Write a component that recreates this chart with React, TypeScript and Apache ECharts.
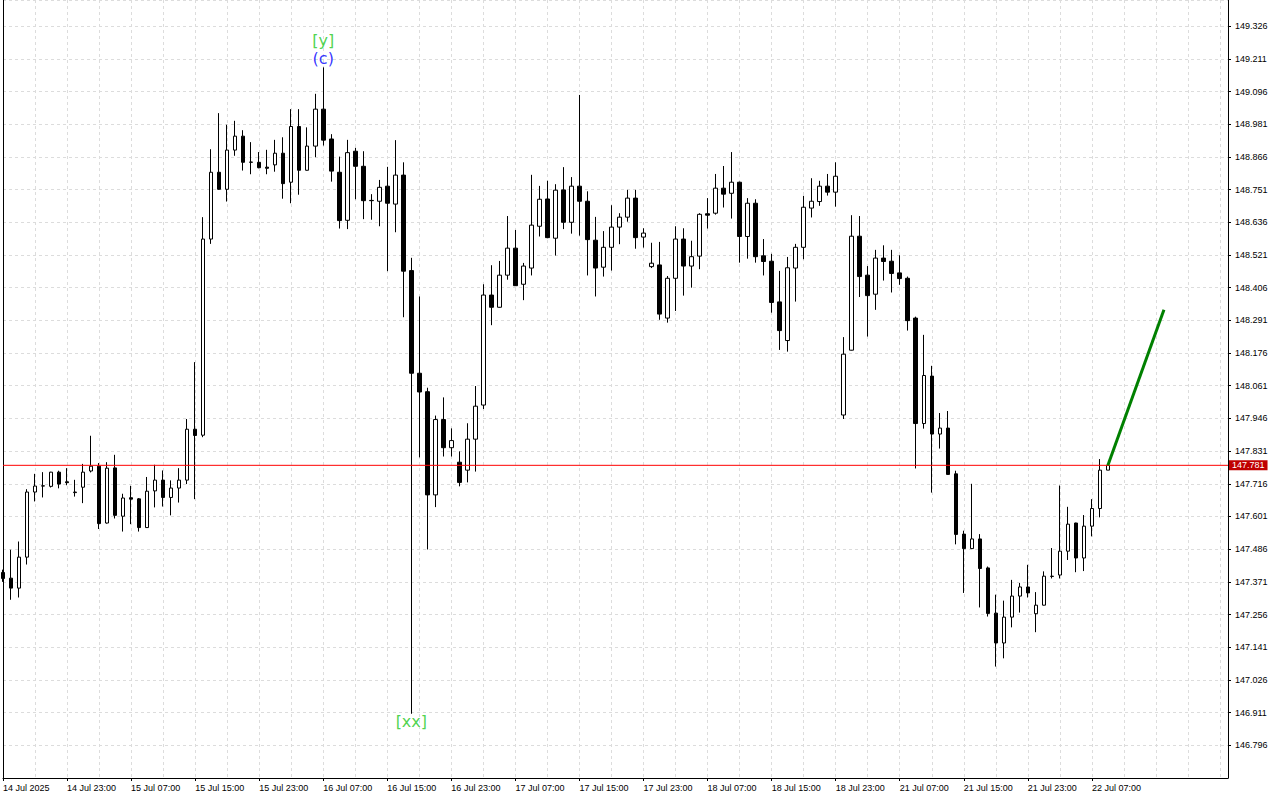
import React, { useEffect, useRef } from 'react';
import * as echarts from 'echarts';

// H1 candles, 14 Jul 2025 15:00 … 22 Jul 2025 09:00 (weekend skipped)
const TIME_LABELS = [
  '14 Jul 2025', '14 Jul 23:00', '15 Jul 07:00', '15 Jul 15:00', '15 Jul 23:00',
  '16 Jul 07:00', '16 Jul 15:00', '16 Jul 23:00', '17 Jul 07:00', '17 Jul 15:00',
  '17 Jul 23:00', '18 Jul 07:00', '18 Jul 15:00', '18 Jul 23:00', '21 Jul 07:00',
  '21 Jul 15:00', '21 Jul 23:00', '22 Jul 07:00',
];
const LABEL_EVERY = 8;
const TOTAL_SLOTS = 154; // bars + empty right shift

const OPEN = [
  147.404, 147.384, 147.349, 147.458, 147.687, 147.708, 147.707, 147.757, 147.723, 147.685,
  147.704, 147.761, 147.778, 147.578, 147.772, 147.602, 147.667, 147.663, 147.562, 147.691,
  147.729, 147.668, 147.701, 147.729, 147.908, 147.887, 148.577, 148.812, 148.752, 148.890,
  148.939, 148.847, 148.847, 148.830, 148.838, 148.879, 148.777, 148.973, 148.819, 148.904,
  149.034, 148.929, 148.812, 148.643, 148.886, 148.833, 148.713, 148.710, 148.763, 148.700,
  148.802, 148.466, 148.105, 148.040, 147.677, 147.942, 147.843, 147.792, 147.764, 147.873,
  147.993, 148.380, 148.337, 148.450, 148.545, 148.418, 148.475, 148.622, 148.718, 148.580,
  148.750, 148.636, 148.763, 148.710, 148.573, 148.478, 148.548, 148.619, 148.654, 148.721,
  148.584, 148.480, 148.486, 148.299, 148.439, 148.577, 148.482, 148.517, 148.666, 148.668,
  148.756, 148.738, 148.777, 148.586, 148.703, 148.518, 148.499, 148.356, 148.220, 148.475,
  148.548, 148.686, 148.709, 148.763, 148.742, 147.958, 148.186, 148.587, 148.450, 148.383,
  148.510, 148.499, 148.458, 148.439, 148.299, 147.928, 148.095, 147.891, 147.912, 147.751,
  147.539, 147.488, 147.522, 147.420, 147.261, 147.156, 147.247, 147.321, 147.353, 147.259,
  147.289, 147.390, 147.395, 147.479, 147.578, 147.455, 147.567, 147.629, 147.764,
];
const CLOSE = [
  147.383, 147.349, 147.458, 147.687, 147.708, 147.709, 147.757, 147.715, 147.720, 147.687,
  147.757, 147.778, 147.576, 147.771, 147.605, 147.666, 147.662, 147.562, 147.690, 147.729,
  147.668, 147.701, 147.729, 147.908, 147.886, 148.577, 148.812, 148.752, 148.890, 148.939,
  148.847, 148.848, 148.828, 148.826, 148.879, 148.772, 148.973, 148.819, 148.904, 149.034,
  148.925, 148.816, 148.642, 148.881, 148.833, 148.712, 148.712, 148.759, 148.703, 148.802,
  148.464, 148.105, 148.039, 147.677, 147.942, 147.843, 147.868, 147.721, 147.873, 147.989,
  148.380, 148.337, 148.450, 148.545, 148.413, 148.482, 148.626, 148.717, 148.582, 148.749,
  148.636, 148.763, 148.710, 148.575, 148.475, 148.548, 148.619, 148.654, 148.721, 148.582,
  148.598, 148.492, 148.313, 148.439, 148.577, 148.482, 148.515, 148.664, 148.661, 148.756,
  148.735, 148.777, 148.586, 148.703, 148.515, 148.498, 148.354, 148.255, 148.476, 148.548,
  148.689, 148.710, 148.763, 148.742, 148.798, 148.172, 148.587, 148.445, 148.378, 148.510,
  148.498, 148.456, 148.438, 148.290, 147.928, 148.097, 147.891, 147.912, 147.749, 147.538,
  147.488, 147.522, 147.418, 147.260, 147.156, 147.247, 147.321, 147.353, 147.332, 147.289,
  147.391, 147.391, 147.479, 147.574, 147.455, 147.567, 147.629, 147.764, 147.781,
];
const LOW = [
  147.371, 147.308, 147.316, 147.432, 147.654, 147.668, 147.703, 147.700, 147.711, 147.671,
  147.648, 147.756, 147.557, 147.576, 147.594, 147.548, 147.574, 147.548, 147.561, 147.633,
  147.636, 147.605, 147.650, 147.715, 147.662, 147.880, 148.560, 148.750, 148.709, 148.870,
  148.818, 148.805, 148.826, 148.805, 148.814, 148.719, 148.703, 148.733, 148.818, 148.865,
  148.906, 148.779, 148.614, 148.612, 148.717, 148.647, 148.645, 148.622, 148.464, 148.601,
  148.302, 146.907, 147.809, 147.485, 147.634, 147.812, 147.812, 147.707, 147.721, 147.759,
  147.979, 148.274, 148.336, 148.434, 148.412, 148.362, 148.449, 148.586, 148.580, 148.519,
  148.612, 148.596, 148.589, 148.449, 148.375, 148.445, 148.466, 148.559, 148.638, 148.543,
  148.547, 148.475, 148.293, 148.283, 148.324, 148.378, 148.406, 148.471, 148.614, 148.663,
  148.688, 148.649, 148.494, 148.508, 148.494, 148.449, 148.318, 148.187, 148.181, 148.357,
  148.506, 148.653, 148.694, 148.730, 148.691, 147.944, 148.185, 148.373, 148.234, 148.328,
  148.431, 148.389, 148.416, 148.255, 147.770, 147.910, 147.685, 147.840, 147.748, 147.503,
  147.332, 147.487, 147.281, 147.249, 147.073, 147.102, 147.211, 147.263, 147.316, 147.194,
  147.288, 147.383, 147.383, 147.448, 147.405, 147.409, 147.531, 147.598, 147.764,
];
const HIGH = [
  147.414, 147.484, 147.513, 147.697, 147.751, 147.757, 147.758, 147.762, 147.771, 147.730,
  147.786, 147.885, 147.789, 147.792, 147.818, 147.681, 147.709, 147.666, 147.740, 147.783,
  147.763, 147.728, 147.771, 147.944, 148.144, 148.654, 148.893, 149.020, 148.979, 148.993,
  148.960, 148.918, 148.883, 148.891, 148.926, 148.935, 149.034, 149.034, 148.970, 149.088,
  149.181, 148.946, 148.867, 148.926, 148.898, 148.886, 148.735, 148.785, 148.831, 148.925,
  148.847, 148.511, 148.375, 148.054, 147.956, 148.020, 147.911, 147.830, 147.929, 148.060,
  148.418, 148.485, 148.500, 148.658, 148.609, 148.493, 148.803, 148.764, 148.782, 148.770,
  148.830, 148.795, 149.084, 148.745, 148.655, 148.605, 148.696, 148.668, 148.750, 148.750,
  148.615, 148.564, 148.567, 148.447, 148.622, 148.615, 148.571, 148.668, 148.721, 148.806,
  148.834, 148.883, 148.779, 148.721, 148.717, 148.577, 148.525, 148.465, 148.514, 148.560,
  148.729, 148.791, 148.782, 148.806, 148.847, 148.232, 148.661, 148.658, 148.482, 148.539,
  148.555, 148.539, 148.520, 148.445, 148.304, 148.240, 148.131, 147.965, 147.972, 147.762,
  147.551, 147.716, 147.539, 147.425, 147.326, 147.305, 147.378, 147.367, 147.431, 147.335,
  147.408, 147.490, 147.710, 147.635, 147.579, 147.606, 147.662, 147.803, 147.781,
];

const LAST_PRICE = 147.781;
const PROJECTION_X = [138, 145];
const PROJECTION_Y = [147.781, 148.328];
const WAVE_LABELS = [
  { bar: 40, price: 149.181, text: '(c)', color: '#0000ff', dy: -9 },
  { bar: 40, price: 149.181, text: '[y]', color: '#22c822', dy: -27 },
  { bar: 51, price: 146.907, text: '[xx]', color: '#22c822', dy: 8 },
];

const Y_MIN = 146.681;
const Y_MAX = 149.418;
const Y_STEP = 0.115;

export default function App() {
  const ref = useRef<HTMLDivElement>(null);

  useEffect(() => {
    if (!ref.current) return;
    const chart = echarts.init(ref.current, null, { renderer: 'svg' });
    const cats = Array.from({ length: TOTAL_SLOTS }, (_, i) => String(i));
    const candles = OPEN.map((o, i) => [o, CLOSE[i], LOW[i], HIGH[i]]);
    const isLabelled = (i: number) => i % LABEL_EVERY === 0 && i / LABEL_EVERY < TIME_LABELS.length;
    const gridLine = { color: '#dcdcdc', width: 1, type: [3, 3] as any };

    chart.setOption({
      animation: false,
      backgroundColor: '#ffffff',
      textStyle: { fontFamily: 'Liberation Sans, Arial, sans-serif' },
      grid: { left: 2, right: 52, top: 0, bottom: 22, containLabel: false },
      xAxis: {
        type: 'category',
        data: cats,
        boundaryGap: false,
        axisLine: { show: true, lineStyle: { color: '#000', width: 1 } },
        axisTick: { show: true, length: 3, interval: (i: number) => isLabelled(i), lineStyle: { color: '#000' } },
        axisLabel: {
          interval: (i: number) => isLabelled(i),
          formatter: (_v: string, i: number) => TIME_LABELS[i / LABEL_EVERY] ?? '',
          align: 'left',
          margin: 5,
          fontSize: 9,
          color: '#000',
        },
        splitLine: { show: true, interval: 3, lineStyle: gridLine },
      },
      yAxis: [
        {
          type: 'value',
          position: 'right',
          min: Y_MIN,
          max: Y_MAX,
          interval: Y_STEP,
          axisLine: { show: true, lineStyle: { color: '#000', width: 1 } },
          axisTick: { show: true, length: 3, lineStyle: { color: '#000' } },
          axisLabel: {
            showMinLabel: false,
            showMaxLabel: false,
            formatter: (v: number) => v.toFixed(3),
            margin: 7,
            fontSize: 9,
            color: '#000',
          },
          splitLine: { show: true, lineStyle: gridLine },
        },
        {
          type: 'value',
          position: 'left',
          min: Y_MIN,
          max: Y_MAX,
          axisLine: { show: true, onZero: false, lineStyle: { color: '#000', width: 1 } },
          axisTick: { show: false },
          axisLabel: { show: false },
          splitLine: { show: false },
        },
      ],
      series: [
        {
          type: 'line',
          data: [[0, LAST_PRICE], [TOTAL_SLOTS - 1, LAST_PRICE]],
          symbol: 'none',
          silent: true,
          lineStyle: { color: '#ff0000', width: 1 },
          z: 4,
          endLabel: {
            show: true,
            formatter: LAST_PRICE.toFixed(3),
            color: '#ffffff',
            backgroundColor: '#c00000',
            padding: [1, 3, 0, 3],
            fontSize: 9,
            distance: 1,
          },
        },
        {
          type: 'candlestick',
          data: candles,
          barWidth: 4,
          itemStyle: {
            color: '#ffffff',
            color0: '#000000',
            borderColor: '#000000',
            borderColor0: '#000000',
            borderWidth: 1,
          },
          z: 3,
        },
        {
          type: 'line',
          data: PROJECTION_X.map((x, i) => [x, PROJECTION_Y[i]]),
          symbol: 'none',
          lineStyle: { color: '#008000', width: 3 },
          z: 5,
        },
        {
          type: 'scatter',
          symbolSize: 0,
          silent: true,
          data: WAVE_LABELS.map((w) => ({
            value: [w.bar, w.price],
            label: {
              show: true,
              position: 'inside',
              formatter: w.text,
              color: w.color,
              offset: [0, w.dy],
              fontSize: 16,
              fontFamily: 'DejaVu Sans',
            },
          })),
          z: 6,
        },
      ],
    });
    return () => chart.dispose();
  }, []);

  return <div ref={ref} style={{ position: 'absolute', left: 0, top: 0, width: 1280, height: 800 }} />;
}
